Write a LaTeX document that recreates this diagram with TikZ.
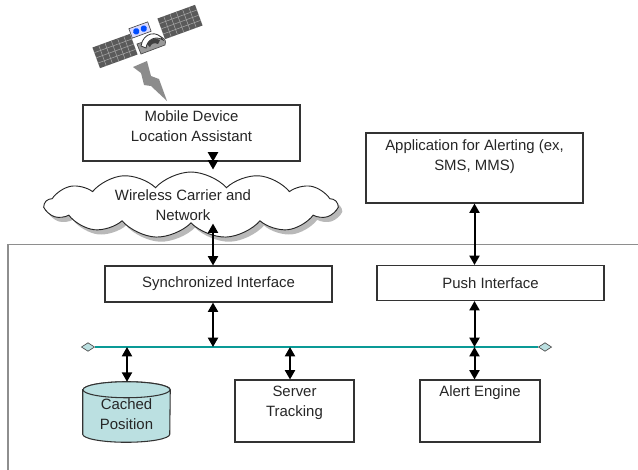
\documentclass[tikz,border=0pt]{standalone}
\usepackage{fontspec}
\setmainfont{Liberation Sans}
\usetikzlibrary{arrows.meta,shapes.symbols,shapes.geometric,shadows,calc}

\definecolor{busteal}{HTML}{0A9A96}
\definecolor{cachefill}{HTML}{BBE0E1}
\definecolor{panelgray}{HTML}{5A5A5A}
\definecolor{framegray}{HTML}{8E8E8E}

\def\pxu{0.75pt}

\begin{document}
\begin{tikzpicture}[
    x=\pxu, y=-\pxu,
    font=\fontsize{11.2}{15}\selectfont,
    every node/.style={inner sep=0pt, text=black!85},
    box/.style={draw=black!80, fill=white, line width=0.8pt},
    txt/.style={align=center, anchor=north},
    link/.style={{Triangle[length=7pt,width=7.5pt]}-{Triangle[length=7pt,width=7.5pt]},
                 line width=1.5pt},
    bus/.style={draw=busteal, line width=1.4pt},
    busend/.style={diamond, draw=black!70, fill=cachefill, line width=0.5pt,
                   minimum width=10pt, minimum height=6.5pt},
    drum/.style={draw=black!80, fill=cachefill, line width=0.8pt},
]
\useasboundingbox (0,0) rectangle (638,469);

% ---- column x-coordinates of the vertical links ----
\def\xnet{213}     % mobile -> cloud -> sync -> bus
\def\xpush{474.5}  % app -> push -> bus -> alert
\def\xcache{127}
\def\xtrack{290}
\def\ybus{347}

% ---- satellite ----
\begin{scope}[shift={(115,51)}, rotate=20]
  \fill[panelgray] (-20,-11) rectangle (20,11);
  \foreach \i in {-13.3,-6.7,0,6.7,13.3}
    \draw[black!35, line width=0.4pt] (\i,-11) -- (\i,11);
  \foreach \j in {-5.5,0,5.5}
    \draw[black!35, line width=0.4pt] (-20,\j) -- (20,\j);
\end{scope}
\begin{scope}[shift={(180,22)}, rotate=20]
  \fill[panelgray] (-20,-11) rectangle (20,11);
  \foreach \i in {-13.3,-6.7,0,6.7,13.3}
    \draw[black!35, line width=0.4pt] (\i,-11) -- (\i,11);
  \foreach \j in {-5.5,0,5.5}
    \draw[black!35, line width=0.4pt] (-20,\j) -- (20,\j);
\end{scope}
% body and dish
\draw[black!70, fill=black!40, line width=0.5pt]
  (137,44) -- (160,36) .. controls (166,40) .. (165,45) -- (141,54) -- cycle;
\draw[black!80, fill=white, line width=0.6pt]
  (141,46) .. controls (143,32) and (158,30) .. (163,40)
  .. controls (155,35) and (147,40) .. (146,48) -- cycle;
\fill[black!75] (147,44) .. controls (150,38) and (156,38) .. (160,40)
  -- (158,44) .. controls (154,42) and (151,44) .. (150,47) -- cycle;
\begin{scope}[shift={(140,30)}, rotate=20]
  \draw[black!70, fill=blue!15, line width=0.5pt] (-10,-5) rectangle (10,5);
  \fill[blue!70!cyan] (-4,0) circle (3.2) (4,0) circle (3.2);
\end{scope}
% signal bolt
\fill[black!45] (133,67) -- (147,61) -- (151,76) -- (159,79) -- (167,101)
  -- (151,86) -- (144,85) -- (141,73) -- cycle;

% ---- mobile device and carrier network ----
\node[box, minimum width=217*\pxu, minimum height=56*\pxu] (mobile) at (191.5,133) {};
\node[txt] (mobiletxt) at (mobile.north |- 0,110)
  {Mobile Device\\Location Assistant};

\node[cloud, cloud puffs=13, cloud puff arc=95, cloud ignores aspect,
      draw=black!85, fill=white, line width=0.7pt,
      minimum width=292*\pxu, minimum height=66*\pxu,
      drop shadow={shadow xshift=3pt, shadow yshift=-3.5pt, opacity=0.55}]
  (cloud) at (191,205) {};
\node[txt] (cloudtxt) at (183,189) {Wireless Carrier and\\Network};

% ---- alerting application ----
\node[box, minimum width=217*\pxu, minimum height=70*\pxu] (app) at (474.5,168) {};
\node[txt] (apptxt) at (app.north |- 0,139)
  {Application for Alerting (ex,\\SMS, MMS)};

% ---- server boundary ----
\draw[framegray, line width=1.3pt] (8,472) -- (8,244.5) -- (642,244.5);

% ---- interfaces ----
\node[box, minimum width=227*\pxu, minimum height=36*\pxu] (sync) at (218.5,284)
  {Synchronized Interface};
\node[box, minimum width=227*\pxu, minimum height=35*\pxu] (push) at (490.5,283)
  {Push Interface};

% ---- bus ----
\node[busend] (busl) at (88,\ybus) {};
\node[busend] (busr) at (545,\ybus) {};
\draw[bus] (busl.east) -- (busr.west);
\coordinate (busy) at (0,\ybus);

% ---- back-end components ----
\node[minimum width=87*\pxu, minimum height=60*\pxu] (cached) at (126.5,412) {};
\draw[drum] ([yshift=-8*\pxu]cached.north west) -- ([yshift=8*\pxu]cached.south west)
  arc[start angle=180, end angle=0, x radius=43.5, y radius=8]
  -- ([yshift=-8*\pxu]cached.north east)
  arc[start angle=0, end angle=-180, x radius=43.5, y radius=8] -- cycle;
\draw[drum] ([yshift=-8*\pxu]cached.north) ellipse [x radius=43.5, y radius=8];
\node[txt] (cachedtxt) at (126.5,398) {Cached\\Position};

\node[box, minimum width=119*\pxu, minimum height=62*\pxu] (server) at (294.5,411) {};
\node[txt] (servertxt) at (server.north |- 0,386) {Server\\Tracking};

\node[box, minimum width=120*\pxu, minimum height=62*\pxu] (alert) at (480,411) {};
\node[txt] (alerttxt) at (alert.north |- 0,385) {Alert Engine};

% ---- links ----
\coordinate (cnet) at (\xnet,0);
\coordinate (cpush) at (\xpush,0);
\coordinate (ccache) at (\xcache,0);
\coordinate (ctrack) at (\xtrack,0);

\draw[link] (mobile.south -| cnet) -- ($(cloud.north -| cnet)+(0,-2)$);
\draw[link] (cloud.south -| cnet) -- (sync.north -| cnet);
\draw[link] (sync.south -| cnet) -- (busy -| cnet);
\draw[link] (app.south -| cpush) -- (push.north -| cpush);
\draw[link] (push.south -| cpush) -- (busy -| cpush);
\draw[link] (busy -| cpush) -- (alert.north -| cpush);
\draw[link] (busy -| ccache) -- (cached.north -| ccache);
\draw[link] (busy -| ctrack) -- (server.north -| ctrack);

\end{tikzpicture}
\end{document}
